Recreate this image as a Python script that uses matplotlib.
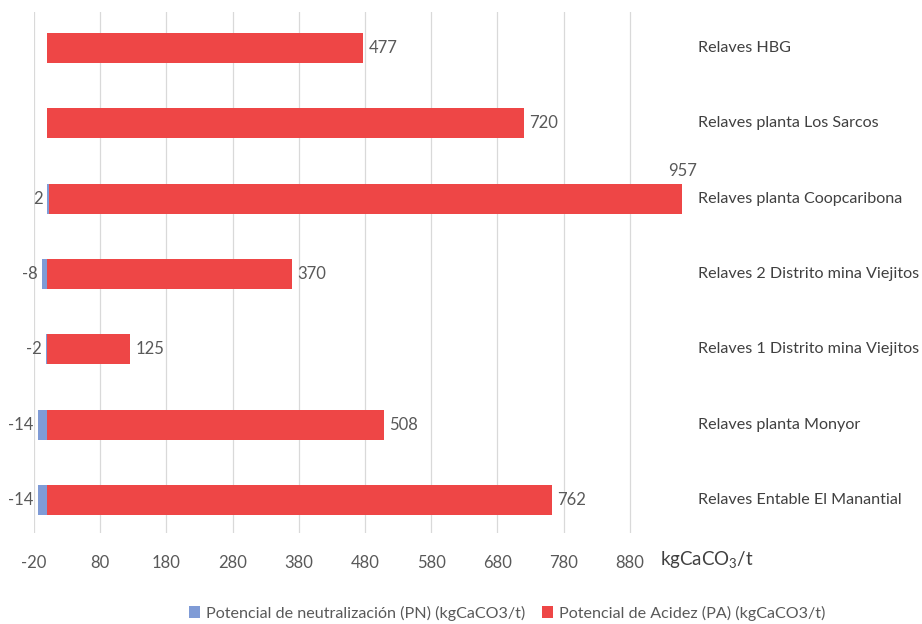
import matplotlib
matplotlib.use("Agg")
import matplotlib.pyplot as plt
import matplotlib.transforms as mtransforms
import numpy as np

plt.rcParams['font.family'] = ['Lato', 'DejaVu Sans']
plt.rcParams['mathtext.default'] = 'regular'

categories = [
    "Relaves Entable El Manantial",
    "Relaves planta Monyor",
    "Relaves 1 Distrito mina Viejitos",
    "Relaves 2 Distrito mina Viejitos",
    "Relaves planta Coopcaribona",
    "Relaves planta Los Sarcos",
    "Relaves HBG",
]
pn = [-14, -14, -2, -8, 2, None, None]
pa = [762, 508, 125, 370, 957, 720, 477]
ticks = [-20, 80, 180, 280, 380, 480, 580, 680, 780, 880]

blue = "#7F9BD6"
red = "#EE4646"
gray = "#595959"

fig = plt.figure(figsize=(9.22, 6.24), dpi=100)
ax = fig.add_axes([34 / 922, 1 - 533 / 624, (696 - 34) / 922, (533 - 12) / 624])

y = np.arange(len(categories))
pn_vals = np.array([v if v is not None else 0 for v in pn], dtype=float)
pa_left = np.clip(pn_vals, 0, None)

ax.barh(y, pn_vals, height=0.4, color=blue, label="Potencial de neutralización (PN) (kgCaCO3/t)", zorder=3)
ax.barh(y, pa, left=pa_left, height=0.4, color=red, label="Potencial de Acidez (PA) (kgCaCO3/t)", zorder=3)

for i, (n, a) in enumerate(zip(pn, pa)):
    if n is not None:
        ax.annotate(str(n), (min(n, 0), i), xytext=(-3, 0), textcoords="offset points",
                    ha="right", va="center", color=gray, fontsize=12)
    if a > 900:
        ax.annotate(str(a), (a + pa_left[i], i + 0.2), xytext=(0, 3), textcoords="offset points",
                    ha="center", va="bottom", color=gray, fontsize=12)
    else:
        ax.annotate(str(a), (a + pa_left[i], i), xytext=(4, 0), textcoords="offset points",
                    ha="left", va="center", color=gray, fontsize=12)
    ax.text(983, i, categories[i], ha="left", va="center", color="#404040", fontsize=11.6, clip_on=False)

ax.set_xlim(-20, 980)
ax.set_ylim(-0.44, 6.48)
ax.set_xticks(ticks)
ax.set_xticklabels([str(t) for t in ticks], color=gray, fontsize=12)
ax.tick_params(axis="x", length=0, pad=16)
ax.set_yticks([])
ax.grid(axis="x", color="#D9D9D9", linewidth=0.9, zorder=0)
for s in ax.spines.values():
    s.set_visible(False)

trans = mtransforms.blended_transform_factory(ax.transData, fig.transFigure)
ax.text(926, 1 - 560 / 624, "kgCaCO$_3$/t", transform=trans, ha="left", va="center",
        color="#404040", fontsize=13.5, clip_on=False)

fig.legend(loc="center", bbox_to_anchor=(0.55, 1 - 613 / 624), ncol=2, frameon=False,
           fontsize=11.6, handlelength=0.7, handleheight=0.7, columnspacing=1.0,
           handletextpad=0.4, labelcolor=gray)

fig.savefig("out.png", dpi=100)
